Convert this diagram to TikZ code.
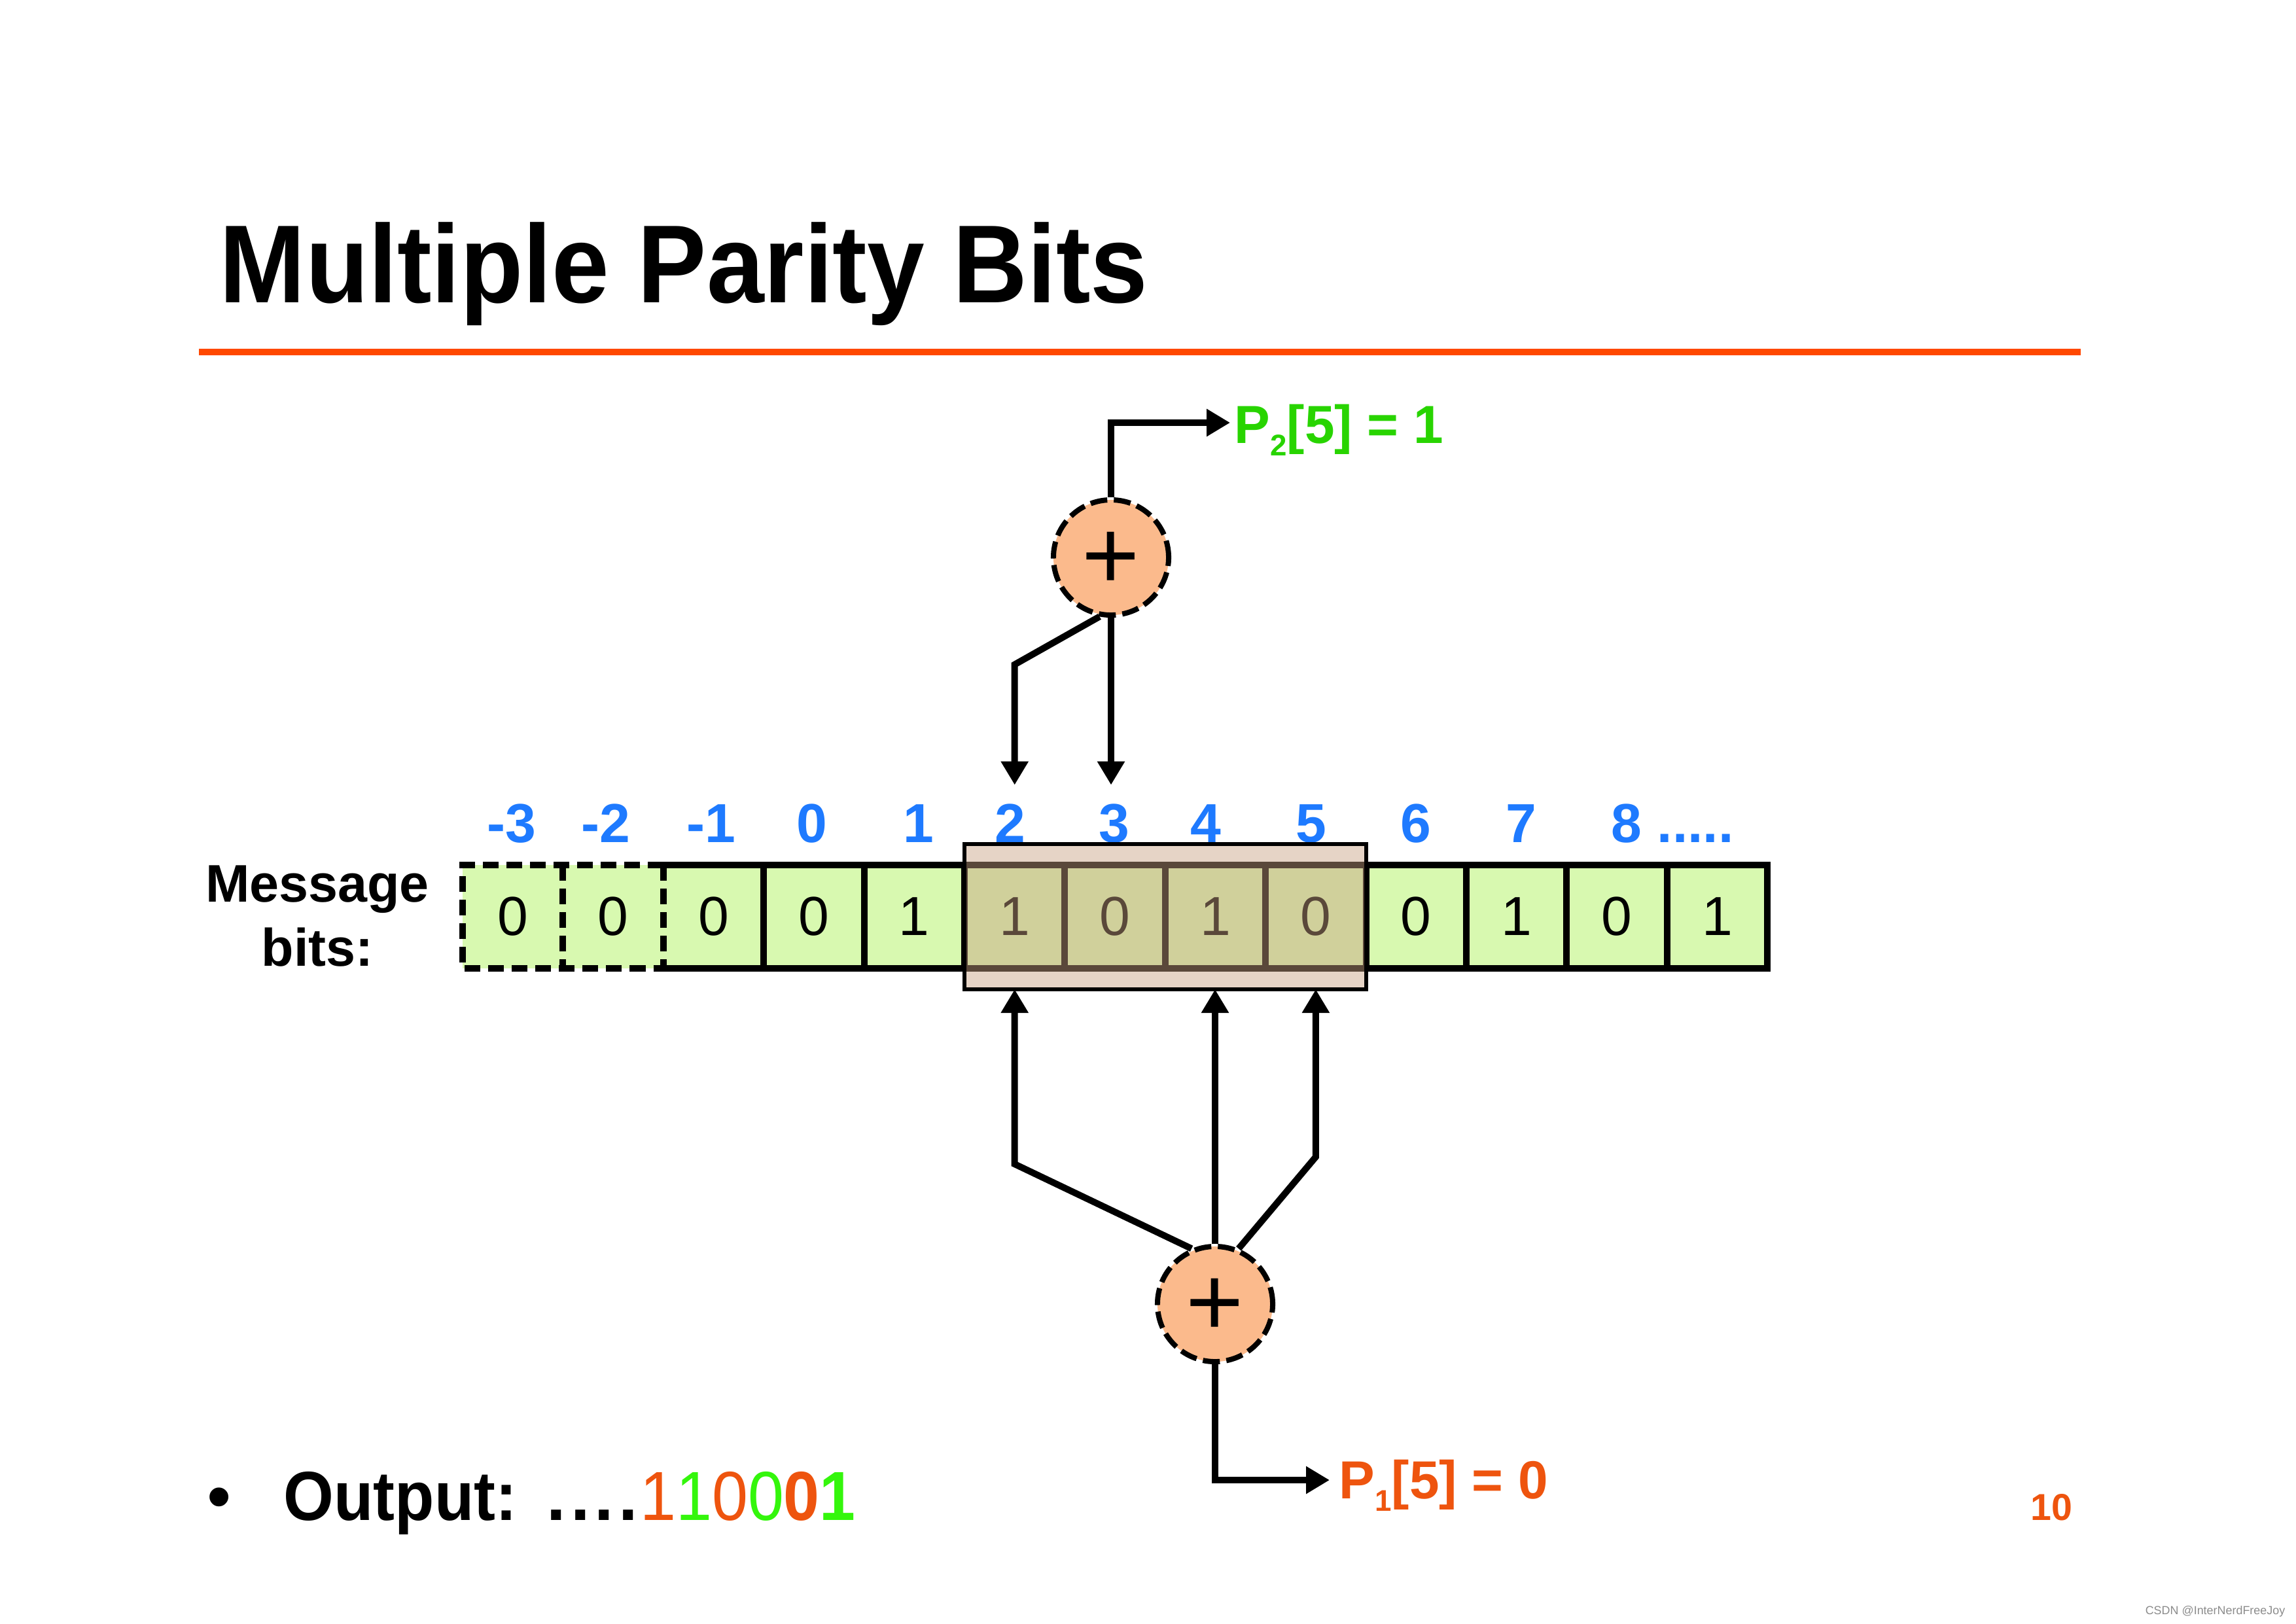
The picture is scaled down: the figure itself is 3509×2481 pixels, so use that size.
\documentclass[tikz,border=0pt]{standalone}
\usepackage{fontspec}
\setmainfont{Liberation Sans}
\newfontfamily\slidefont[FakeStretch=0.93]{Liberation Sans}
\usetikzlibrary{positioning, calc, arrows.meta, fit}
\definecolor{cellGreen}{RGB}{216,249,176}
\definecolor{xorFill}{RGB}{251,186,140}
\definecolor{winTan}{RGB}{200,160,130}
\definecolor{idxBlue}{RGB}{30,122,255}
\definecolor{ruleOrange}{RGB}{255,72,0}
\definecolor{txtOrange}{RGB}{238,84,14}
\definecolor{outGreen}{RGB}{52,246,12}
\definecolor{parGreen}{RGB}{40,212,0}
\newcommand{\psub}[1]{\raisebox{-0.24em}{\fontsize{13pt}{13pt}\selectfont #1}}

\begin{document}
\begin{tikzpicture}[
    x=0.01cm, y=-0.01cm,
    cell/.style={rectangle, fill=cellGreen, minimum width=1.534cm,
                 minimum height=1.58cm, inner sep=0pt, outer sep=0pt,
                 font=\fontsize{23.9pt}{24pt}\selectfont},
    rowline/.style={line width=0.1cm, line join=miter},
    dashline/.style={dash pattern=on 0.24cm off 0.12cm},
    idx/.style={font=\bfseries\fontsize{23.9pt}{24pt}\selectfont, text=idxBlue,
                inner sep=0.28cm},
    xor/.style={circle, draw=black, fill=xorFill, line width=0.08cm,
                dash pattern=on 0.26cm off 0.1cm, minimum size=1.76cm,
                inner sep=0pt, text height=17.5pt, text depth=0pt,
                font=\fontsize{43pt}{43pt}\selectfont},
    hilite/.style={rectangle, draw=black, line width=0.06cm, fill=winTan,
                   fill opacity=0.45, inner xsep=0pt, inner ysep=0.32cm,
                   outer sep=0pt},
    parity/.style={anchor=base west, inner sep=0pt,
                   font=\bfseries\fontsize{23.3pt}{24pt}\selectfont},
    arrow/.style={-{Triangle[length=0.36cm, width=0.4cm]}, line width=0.1cm},
  ]
    \path[use as bounding box, fill=white] (0,0) rectangle (3509,2481);

    % Title
    \node[anchor=base west, inner sep=0pt,
          font=\slidefont\bfseries\fontsize{48.2pt}{48pt}\selectfont] (TITLE)
      at (335,462) {Multiple Parity Bits};
    \draw[ruleOrange, line width=0.1cm] (304,538) -- (3180,538);

    % Message bits
    \node[align=center, font=\bfseries\fontsize{23pt}{27.9pt}\selectfont] (MSG)
      at (485,1400) {Message\\bits:};
    \foreach \v [count=\i] in {0,0,0,0,1,1,0,1,0,0,1,0,1}
      \node[cell] (C\i) at ({707+153.4*(\i-0.5)},1401) {\v};
    \draw[rowline] (C3.north west) -- (C13.north east) -- (C13.south east) -- (C3.south west);
    \foreach \i in {4,...,13}
      \draw[rowline] (C\i.north west) -- (C\i.south west);
    \draw[rowline, dashline] (C3.north west) -- (C1.north west) -- (C1.south west) -- (C3.south west);
    \foreach \i in {2,3}
      \draw[rowline, dashline] (C\i.north west) -- (C\i.south west);

    % Index labels
    \foreach \i/\x/\lbl in {1/782/-3, 2/926/-2, 3/1087/-1, 4/1241/0, 5/1404/1,
                            6/1544/2, 7/1703/3, 8/1843/4, 9/2004/5, 10/2164/6, 11/2325/7}
      \node[idx, anchor=base] (I\i) at (\x,1287) {\lbl};
    \node[idx, anchor=base west] (I12) at (2434,1287) {8 .....};

    % Sliding window
    \node[hilite, fit=(C6)(C9)] (WIN) {};

    % Parity 2
    \node[xor] (XOR2) at (1698,852) {\raisebox{-5pt}{+}};
    \node[parity, text=parGreen] (P2) at (1886,677) {P\psub{2}[5] = 1};
    \draw[arrow] (XOR2.259) -- ($(C6.center |- I6.north)+(0,-184)$) -- (C6.center |- I6.north);
    \draw[arrow] (XOR2.south) -- (XOR2.south |- I7.north);
    \draw[arrow] (XOR2.north) |- ($(P2.base west)+(-6,-31)$);

    % Parity 1
    \node[xor] (XOR1) at (1857,1993) {\raisebox{-5pt}{+}};
    \node[parity, text=txtOrange] (P1) at (2046,2290) {P\psub{1}[5] = 0};
    \draw[arrow] (XOR1.113) -- ($(C6.center |- WIN.south)+(0,267)$) -- (C6.center |- WIN.south);
    \draw[arrow] (XOR1.north) -- (XOR1.north |- WIN.south);
    \draw[arrow] (XOR1.67) -- ($(C9.center |- WIN.south)+(0,256)$) -- (C9.center |- WIN.south);
    \draw[arrow] (XOR1.south) |- ($(P1.base west)+(-14,-28)$);

    % Output
    \node[anchor=base, inner sep=0pt, font=\fontsize{30.2pt}{31pt}\selectfont] (BUL)
      at (335,2323) {•};
    \node[anchor=base west, inner sep=0pt,
          font=\slidefont\fontsize{30.2pt}{31pt}\selectfont] (OUT) at (433,2323)
      {\textbf{Output: {\rmfamily\kern2.5pt.\kern2pt.\kern2pt.\kern2pt.}}\kern1pt%
       \textcolor{txtOrange}{1}\textcolor{outGreen}{1}%
       \textcolor{txtOrange}{0}\textcolor{outGreen}{0}%
       \textbf{\textcolor{txtOrange}{0}\textcolor{outGreen}{1}}};

    % Page number, watermark
    \node[anchor=base east, inner sep=0pt, text=txtOrange,
          font=\bfseries\fontsize{16.3pt}{17pt}\selectfont] (PG) at (3168,2323) {10};
    \node[anchor=base east, inner sep=0pt, text=black!45,
          font=\fontsize{5.1pt}{6pt}\selectfont] (WM) at (3493,2467) {CSDN @InterNerdFreeJoy};
\end{tikzpicture}
\end{document}
